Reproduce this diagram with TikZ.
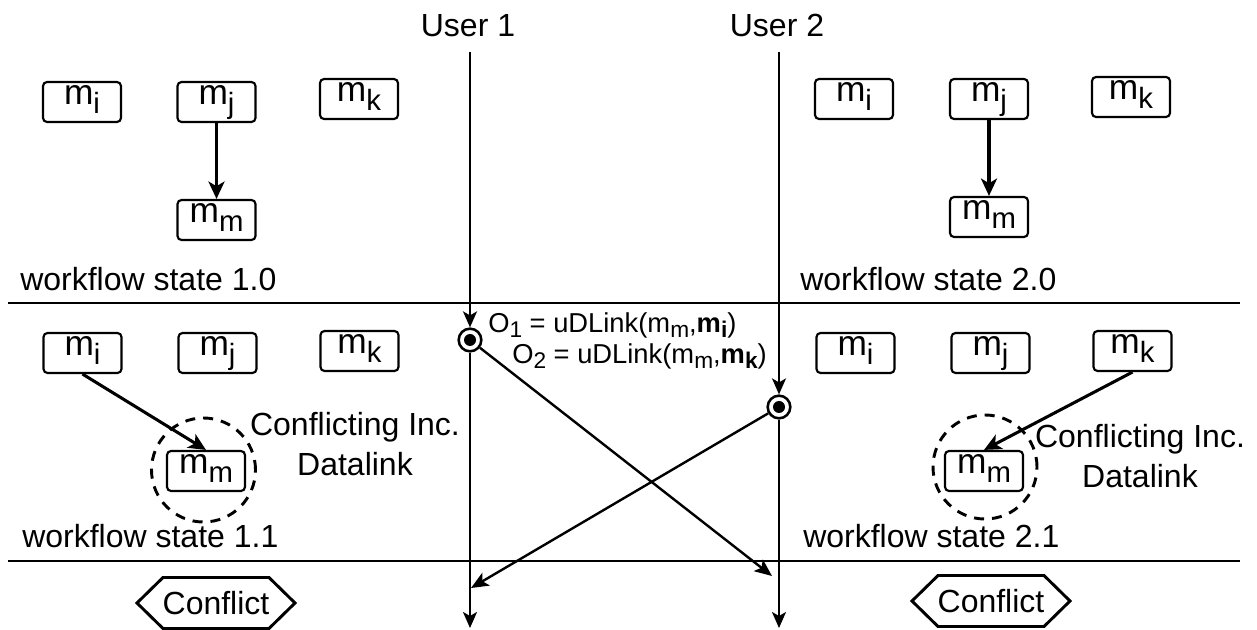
\documentclass[tikz,border=0pt]{standalone}
\usepackage{fontspec}
\setmainfont{Liberation Sans}
\usetikzlibrary{arrows.meta}
% lowered, smaller subscript text
\newcommand\sbs[1]{\raisebox{-0.25em}{\scalebox{0.83}{#1}}}
\newcommand\osbs[1]{\raisebox{-0.18em}{\scalebox{0.83}{#1}}}
\begin{document}
\begin{tikzpicture}[x=0.75pt,y=-0.75pt,
  box/.style={draw, line width=1.6pt, rounded corners=3pt, minimum width=58.5pt,
    minimum height=30pt, inner sep=0pt, font=\fontsize{26.5}{30}\selectfont,
    text height=14.6pt, text depth=10.1pt},
  lbl/.style={inner sep=0pt, font=\fontsize{24}{28}\selectfont},
  oplbl/.style={inner sep=0pt, anchor=base west, font=\fontsize{20.5}{24}\selectfont},
  note/.style={inner sep=0pt, align=center, font=\fontsize{24}{30}\selectfont},
  sep/.style={line width=1.5pt},
  userline/.style={line width=1.5pt, -{Stealth[length=12pt,width=10.5pt,inset=3pt]}},
  link/.style={line width=2.3pt, -{Stealth[length=13pt,width=12pt,inset=3.5pt]}},
  cross/.style={line width=1.8pt, -{Stealth[length=13pt,width=11pt,inset=3pt]}},
  opmark/.style={circle, draw, line width=1.9pt, minimum size=17pt, inner sep=0pt},
  conflictzone/.style={circle, draw, dashed, dash pattern=on 7.5pt off 6pt,
    line width=2.2pt, minimum size=78pt, inner sep=0pt},
  hexlbl/.style={inner sep=0pt, font=\fontsize{24}{28}\selectfont}
]
\useasboundingbox (0,0) rectangle (1257,630);

% user labels
\node[lbl, anchor=base] (user1) at (468,37) {User 1};
\node[lbl, anchor=base] (user2) at (777,37) {User 2};

% separators between states
\coordinate (s1a) at (8,303);   \coordinate (s1b) at (1240,303);
\coordinate (s2a) at (8,561);   \coordinate (s2b) at (1240,561);
\draw[sep] (s1a) -- (s1b);
\draw[sep] (s2a) -- (s2b);

% workflow state 1.0
\node[box] (ami) at (82,102) {m\sbs{i}};
\node[box] (amj) at (216.5,102) {m\sbs{j}};
\node[box] (amk) at (359,99) {m\sbs{k}};
\node[box] (amm) at (216.5,220) {m\sbs{m}};
\draw[link] (amj) -- (amm);
\node[lbl, anchor=base west] (st10) at (20,291) {workflow state 1.0};

% workflow state 2.0
\node[box] (bmi) at (854,99) {m\sbs{i}};
\node[box] (bmj) at (989,99) {m\sbs{j}};
\node[box] (bmk) at (1131,97) {m\sbs{k}};
\node[box] (bmm) at (989,217) {m\sbs{m}};
\draw[link] (bmj) -- (bmm);
\node[lbl, anchor=base west] (st20) at (800,291) {workflow state 2.0};

% workflow state 1.1
\node[box] (cmi) at (82.5,353) {m\sbs{i}};
\node[box] (cmj) at (217.5,353) {m\sbs{j}};
\node[box] (cmk) at (359.5,351) {m\sbs{k}};
\node[box] (cmm) at (206,471) {m\sbs{m}};
\node[conflictzone] (cz1) at (203.5,470) {};
\draw[link] (cmi.south) -- (cmm.north);
\node[note] (cn1) at (355,444) {Conflicting Inc.\\Datalink};
\node[lbl, anchor=base west] (st11) at (22,548) {workflow state 1.1};

% workflow state 2.1
\node[box] (dmi) at (855.5,353) {m\sbs{i}};
\node[box] (dmj) at (990.5,353) {m\sbs{j}};
\node[box] (dmk) at (1132.5,351) {m\sbs{k}};
\node[box] (dmm) at (984,471) {m\sbs{m}};
\node[conflictzone] (cz2) at (985,467) {};
\draw[link] (dmk.south) -- (dmm.north);
\node[note] (cn2) at (1140,456) {Conflicting Inc.\\Datalink};
\node[lbl, anchor=base west] (st21) at (803,548) {workflow state 2.1};

% operations of the two users
\node[opmark] (o1) at (470,340) {};
\node[opmark] (o2) at (779,407) {};
\fill (o1.center) circle (4.5pt);
\fill (o2.center) circle (4.5pt);
\node[oplbl] (op1) at (488,333) {O\osbs{1} = uDLink(m\osbs{m},\textbf{m\osbs{i}})};
\node[oplbl] (op2) at (512,364) {O\osbs{2} = uDLink(m\osbs{m},\textbf{m\osbs{k}})};

% user timelines
\coordinate (u1top) at (470,52);
\coordinate (u1bot) at (470,628);
\coordinate (u2top) at (779,52);
\coordinate (u2bot) at (779,628);
\draw[userline] (u1top) -- (o1);
\draw[userline] (o1) -- (u1bot);
\draw[userline] (u2top) -- (o2);
\draw[userline] (o2) -- (u2bot);

% propagation of each operation to the other user
\coordinate (x1) at (772,576);
\coordinate (x2) at (471,588);
\draw[cross] (o1) -- (x1);
\draw[cross] (o2) -- (x2);

% conflict results
\node[hexlbl] (cf1) at (216,603) {Conflict};
\node[hexlbl] (cf2) at (991,601) {Conflict};
\draw[line width=2.2pt, line join=miter, shift={(cf1.center)}]
  (-79,0) -- (-53,-25.5) -- (53,-25.5) -- (79,0) -- (53,25.5) -- (-53,25.5) -- cycle;
\draw[line width=2.2pt, line join=miter, shift={(cf2.center)}]
  (-79,0) -- (-53,-25.5) -- (53,-25.5) -- (79,0) -- (53,25.5) -- (-53,25.5) -- cycle;
\end{tikzpicture}
\end{document}
